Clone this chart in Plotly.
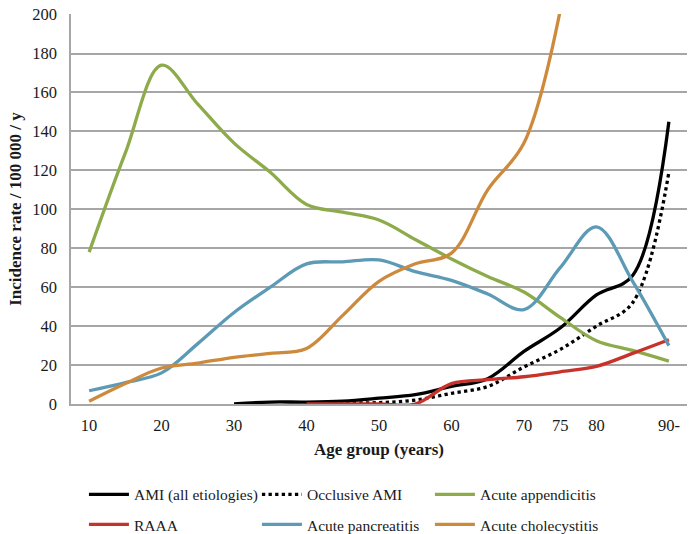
import plotly.graph_objects as go

ages = [10, 15, 20, 25, 30, 35, 40, 45, 50, 55, 60, 65, 70, 75, 80, 85, 90]

ami_all = [None, None, None, None, 0, 1, 1, 1.5, 3, 4.8, 9, 13, 27, 39, 56, 66, 145]
ami_occl = [None, None, None, None, None, None, 0, 0.5, 0.7, 2, 5.5, 9, 19, 28, 40, 52, 119]
appendicitis = [78, 129, 174, 154, 134, 119, 102.5, 98.5, 94.5, 84.5, 74.5, 65.5, 57.5, 44.5, 32.5, 27.5, 22]
raaa = [None, None, None, None, None, None, 0, 0, 0, 0, 10.5, 12.5, 14, 16.5, 19.3, 26, 33]
pancreatitis = [6.8, 11, 16, 31, 47, 60, 72, 73, 74, 68, 63.5, 56.5, 48.5, 70, 91, 63, 30]
cholecystitis = [1.4, 10.5, 18.5, 21, 24, 26, 28.5, 45.5, 63, 72, 77.5, 110, 134, 202, None, None, None]

tick_vals = [10, 20, 30, 40, 50, 60, 70, 75, 80, 90]
tick_text = ["10", "20", "30", "40", "50", "60", "70", "75", "80", "90-"]

FONT = "Liberation Serif"
TXT = "#1a1a1a"

fig = go.Figure()

def add(name, y, color, legend, dash="solid"):
    fig.add_trace(go.Scatter(
        x=ages, y=y, name=name, mode="lines", legend=legend,
        line=dict(color=color, width=3.3, shape="spline", smoothing=1, dash=dash),
        connectgaps=False,
    ))

add("AMI (all etiologies)", ami_all, "#000000", "legend")
add("Occlusive AMI", ami_occl, "#000000", "legend", dash="dot")
add("Acute appendicitis", appendicitis, "#8EAB4C", "legend")
add("RAAA", raaa, "#C8322B", "legend2")
add("Acute pancreatitis", pancreatitis, "#5D9AB6", "legend2")
add("Acute cholecystitis", cholecystitis, "#CE8A3C", "legend2")

leg_common = dict(
    orientation="h", xanchor="left", yanchor="middle",
    entrywidth=118, entrywidthmode="pixels",
    font=dict(family=FONT, size=15.5, color=TXT),
    itemwidth=40, traceorder="normal", bgcolor="rgba(0,0,0,0)",
)

fig.update_layout(
    width=692, height=534,
    margin=dict(l=71, r=5, t=14, b=130, autoexpand=False),
    paper_bgcolor="white", plot_bgcolor="white",
    font=dict(family=FONT, size=16, color=TXT),
    showlegend=True,
    legend=dict(x=0.021, y=-0.233, **leg_common),
    legend2=dict(x=0.021, y=-0.310, **leg_common),
    xaxis=dict(
        range=[7.5, 92.5], tickmode="array", tickvals=tick_vals, ticktext=tick_text,
        showgrid=False, zeroline=False, showline=True, linecolor="#A6A6A6", linewidth=1.5,
        ticks="", ticklen=0, automargin=False, ticklabelstandoff=5,
        title=dict(text="<b>Age group (years)</b>", standoff=10, font=dict(family=FONT, size=17, color=TXT)),
        tickfont=dict(family=FONT, size=16.5, color=TXT),
    ),
    yaxis=dict(
        range=[0, 200.3], tick0=0, dtick=20,
        showgrid=True, gridcolor="#A6A6A6", gridwidth=1.5,
        zeroline=False, showline=True, linecolor="#A6A6A6", linewidth=1.5,
        ticks="", ticklen=0, automargin=False, ticklabelstandoff=9,
        title=dict(text="<b>Incidence rate / 100 000 / y</b>", standoff=6, font=dict(family=FONT, size=17, color=TXT)),
        tickfont=dict(family=FONT, size=16.5, color=TXT),
    ),
)

fig.write_html(
    "out.html",
    config={"displayModeBar": False},
    post_script="document.body.style.margin='0';document.body.style.overflow='hidden';",
)
